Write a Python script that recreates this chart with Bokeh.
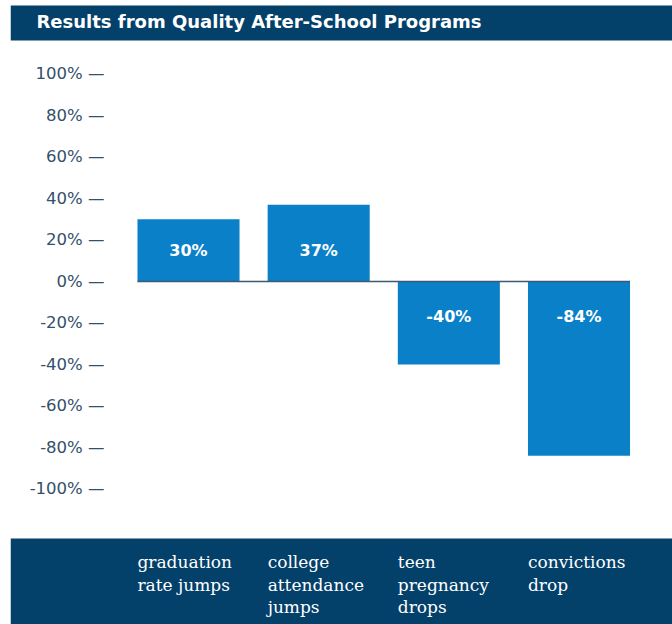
from bokeh.plotting import figure
from bokeh.models import Range1d, FixedTicker, ColumnDataSource, BoxAnnotation, Label
from bokeh.core.properties import value
from bokeh.embed import file_html
from bokeh.resources import INLINE

# ---- data ----
title_text = "Results from Quality After-School Programs"
categories = ["graduation\nrate jumps", "college\nattendance\njumps", "teen\npregnancy\ndrops", "convictions\ndrop"]
values = [30, 37, -40, -84]
tick_values = [100, 80, 60, 40, 20, 0, -20, -40, -60, -80, -100]
tick_labels = ["100% \u2014", "80% \u2014", "60% \u2014", "40% \u2014", "20% \u2014", "0% \u2014",
               "-20% \u2014", "-40% \u2014", "-60% \u2014", "-80% \u2014", "-100% \u2014"]

# ---- style ----
NAVY = "#03406a"
BAR = "#0a80c9"
TICK = "#33506b"
ZERO = "#3f5a70"
W, H = 672, 624
BAR_W = 0.784

xs = list(range(len(categories)))
lefts = [x - BAR_W / 2 for x in xs]

p = figure(width=W, height=H, x_range=Range1d(-1.3675, 3.7183), y_range=Range1d(-165.3, 135.4),
           x_axis_location=None, toolbar_location=None, output_backend="svg",
           min_border_left=10, min_border_right=0, min_border_top=0, min_border_bottom=0)
p.outline_line_color = None
p.grid.visible = False
p.background_fill_color = "white"
p.border_fill_color = "white"

ax = p.yaxis[0]
ax.fixed_location = -0.5224
ax.ticker = FixedTicker(ticks=tick_values)
ax.major_label_overrides = {v: l for v, l in zip(tick_values, tick_labels)}
ax.major_tick_out = 0
ax.major_tick_in = 0
ax.minor_tick_out = 0
ax.minor_tick_in = 0
ax.axis_line_color = None
ax.major_label_standoff = 16
ax.major_label_text_font = "DejaVu Sans"
ax.major_label_text_font_size = "16.5px"
ax.major_label_text_color = TICK

# banners
p.add_layout(BoxAnnotation(left=10, right=W, top=5, bottom=40,
                           left_units="canvas", right_units="canvas",
                           top_units="canvas", bottom_units="canvas",
                           fill_color=NAVY, fill_alpha=1, line_color=None, level="underlay"))
p.add_layout(BoxAnnotation(left=10, right=W, top=538, bottom=H,
                           left_units="canvas", right_units="canvas",
                           top_units="canvas", bottom_units="canvas",
                           fill_color=NAVY, fill_alpha=1, line_color=None, level="underlay"))
p.add_layout(Label(x=36, y=21, x_units="canvas", y_units="canvas", text=title_text,
                   text_color="white", text_font="DejaVu Sans", text_font_style="bold",
                   text_font_size="18px", text_baseline="middle", text_align="left"))

src = ColumnDataSource(dict(x=xs, top=values,
                            label=[f"{v}%" for v in values],
                            ly=[15 if v > 0 else -17 for v in values]))
p.vbar(x="x", top="top", bottom=0, width=BAR_W, source=src,
       fill_color=BAR, line_color=None)
p.line(x=[lefts[0], xs[-1] + BAR_W / 2], y=[0, 0], line_color=ZERO, line_width=1.3)
p.text(x="x", y="ly", text="label", source=src, text_color="white",
       text_font=value("DejaVu Sans"), text_font_style="bold", text_font_size="16px",
       text_align="center", text_baseline="middle")

# category labels in the bottom banner
p.text(x=lefts, y=[-130.5] * len(lefts), text=categories, text_color="white",
       text_font=value("DejaVu Serif"), text_font_size="17px",
       text_align="left", text_baseline="top", text_line_height=1.13)

open("out.html", "w").write(file_html(p, INLINE))
